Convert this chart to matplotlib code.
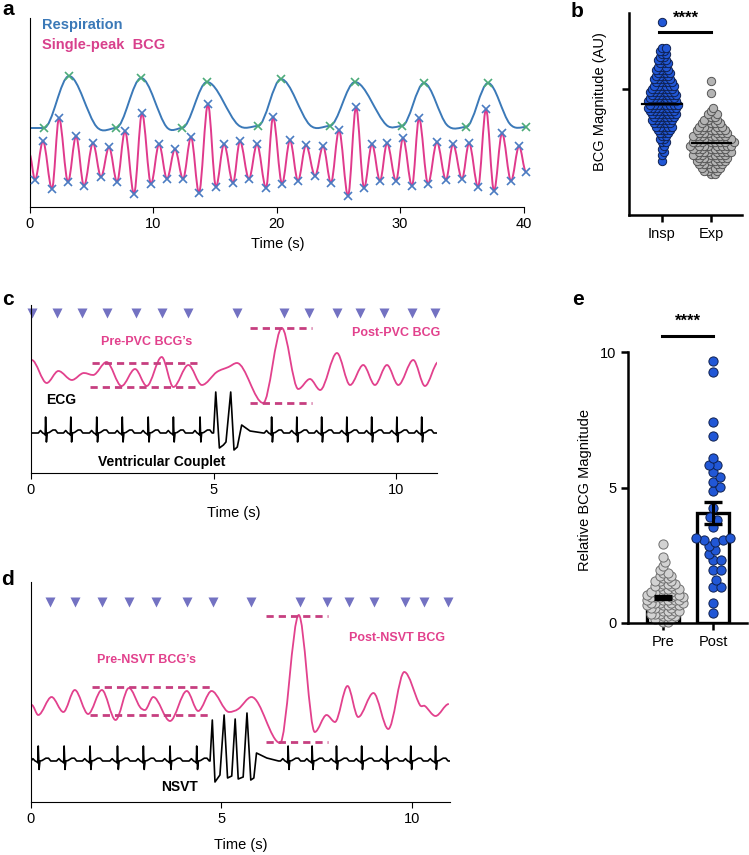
import numpy as np
import matplotlib
matplotlib.use('Agg')
import matplotlib.pyplot as plt
from matplotlib.path import Path
from matplotlib.patches import PathPatch

plt.rcParams['font.family'] = ['Liberation Sans', 'DejaVu Sans']

W, H = 749, 855

# ---------------- panel a: respiration + single-peak BCG (40 s) ----------------
resp_t = [0.0, 1.17, 3.2, 5.45, 7.0, 9.04, 11.1, 12.35, 14.37, 16.9, 18.5, 20.36,
          22.7, 24.3, 26.35, 28.9, 30.16, 31.94, 33.8, 35.35, 37.13, 38.9, 40.2]
resp_amp = [79, 79, 131, 80, 79, 129, 80, 79, 125, 82, 81, 128,
            82, 81, 125, 82, 81, 124, 82, 80, 124, 83, 80]
resp_marked = [0, 1, 1, 0, 1, 1, 0, 1, 1, 0, 1, 1,
               0, 1, 1, 0, 1, 1, 0, 1, 1, 0, 1]

bcg_a_t = [0.0, 0.45, 1.09, 1.82, 2.39, 3.12, 3.77, 4.41, 5.14, 5.79, 6.44, 7.09,
           7.73, 8.46, 9.11, 9.84, 10.49, 11.13, 11.78, 12.43, 13.08, 13.72, 14.45,
           15.10, 15.75, 16.48, 17.04, 17.77, 18.42, 19.15, 19.72, 20.45, 21.09,
           21.74, 22.39, 23.12, 23.77, 24.41, 25.06, 25.79, 26.44, 27.09, 27.73,
           28.38, 28.95, 29.68, 30.24, 30.97, 31.54, 32.27, 32.99, 33.72, 34.29,
           35.02, 35.59, 36.32, 36.96, 37.61, 38.26, 38.99, 39.64, 40.2]
bcg_a_amp = [53, 27, 66, 18, 89, 25, 71, 21, 64, 30, 60, 25, 76, 13, 94, 23, 63, 28,
             58, 28, 70, 14, 103, 20, 63, 24, 66, 28, 63, 19, 90, 23, 67, 26, 62, 31,
             61, 24, 77, 11, 100, 19, 63, 26, 64, 26, 69, 21, 89, 23, 65, 27, 63, 28,
             64, 20, 98, 16, 74, 26, 61, 35]

# ---------------- panel b: BCG magnitude, inspiration vs expiration ----------------
insp_levels = [0.425, 0.450, 0.475, 0.500, 0.525, 0.550, 0.575, 0.600, 0.625, 0.650,
               0.675, 0.700, 0.725, 0.750, 0.775, 0.800, 0.825, 0.850, 0.875, 0.900,
               0.925, 0.950, 0.975, 1.000, 1.025, 1.050, 1.075, 1.100, 1.125, 1.150,
               1.175, 1.200, 1.225, 1.250, 1.275, 1.300, 1.325, 1.53]
insp_counts = [1, 0, 1, 1, 1, 1, 2, 2, 2, 3, 4, 5, 5, 6, 6, 7, 7, 8, 8, 8,
               7, 7, 7, 6, 6, 5, 5, 4, 4, 4, 3, 3, 3, 2, 2, 2, 2, 1]
exp_levels = [0.325, 0.350, 0.375, 0.400, 0.425, 0.450, 0.475, 0.500, 0.525, 0.550,
              0.575, 0.600, 0.625, 0.650, 0.675, 0.700, 0.725, 0.750, 0.775, 0.800,
              0.825, 0.850, 0.97, 1.06]
exp_counts = [2, 3, 4, 5, 6, 6, 7, 7, 7, 8, 8, 7, 7, 6, 6, 5, 4, 3, 2, 2, 1, 1, 1, 1]
insp_median = 0.88
exp_median = 0.57

# ---------------- panel c: ventricular couplet ----------------
tri_c = [0.03, 0.71, 1.40, 2.08, 2.88, 3.59, 4.30, 5.64, 6.93, 7.62, 8.38, 9.01,
         9.67, 10.44, 11.07]
bcg_c_t = [0.02, 0.43, 0.75, 1.12, 1.45, 1.70, 2.07, 2.48, 2.85, 3.17, 3.58, 3.90,
           4.31, 4.68, 5.09, 5.41, 5.64, 6.36, 6.87, 7.32, 7.64, 7.92, 8.38, 8.74,
           9.10, 9.42, 9.75, 10.06, 10.47, 10.79, 11.16]
bcg_c_amp = [113, 90, 102, 93, 100, 98, 111, 87, 104, 87, 116, 86, 108, 88, 101,
             106, 110, 70, 145, 84, 94, 83, 120, 88, 108, 88, 108, 88, 113, 87, 111]
ecg_c_beats = [0.40, 1.09, 1.80, 2.50, 3.21, 3.90, 4.63, 6.59, 7.28, 7.96, 8.65,
               9.33, 10.02, 10.70]
pvc_t = [5.00, 5.06, 5.16, 5.27, 5.34, 5.47, 5.56, 5.65, 5.77, 6.00, 6.36]
pvc_amp = [40, 81, 25, 28, 31, 81, 23, 26, 48, 42, 40]

# ---------------- panel d: NSVT ----------------
tri_d = [0.50, 1.15, 1.86, 2.57, 3.27, 4.09, 4.77, 5.77, 7.06, 7.78, 8.35, 9.00,
         9.82, 10.32, 10.94]
bcg_d_t = [0.02, 0.19, 0.54, 0.85, 1.15, 1.50, 1.86, 2.22, 2.57, 2.86, 2.99, 3.21,
           3.65, 4.09, 4.39, 4.74, 5.20, 5.44, 5.79, 6.54, 7.03, 7.45, 7.76, 7.98,
           8.31, 8.59, 8.99, 9.38, 9.80, 10.21, 10.34, 10.62, 10.97]
bcg_d_amp = [97, 87, 105, 90, 112, 88, 112, 82, 114, 95, 92, 105, 81, 111, 91, 111,
             90, 93, 105, 59, 187, 70, 87, 80, 116, 85, 109, 73, 130, 97, 96, 86, 98]
ecg_d_beats = [0.19, 0.87, 1.55, 2.27, 2.95, 3.65, 4.35, 6.75, 7.38, 8.02, 8.68,
               9.34, 9.97, 10.62]
nsvt_t = [4.70, 4.76, 4.83, 4.96, 5.07, 5.16, 5.27, 5.36, 5.44, 5.57, 5.67, 5.77,
          5.85, 5.92, 6.19, 6.50]
nsvt_amp = [41, 82, 20, 27, 87, 24, 26, 83, 23, 25, 89, 22, 24, 49, 44, 41]

# one normal ECG beat, relative to the R peak (s, amplitude above baseline)
ecg_tmpl_dt = [-0.20, -0.14, -0.08, -0.03, -0.012, 0.0, 0.022, 0.045, 0.10, 0.20, 0.27, 0.33]
ecg_tmpl_da = [0, 2.5, 0, -1, -2, 16, -9, 0, 0.5, 3, 3, 0]

# ---------------- panel e: relative BCG magnitude pre / post ----------------
pre_levels = [0.05, 0.15, 0.25, 0.35, 0.45, 0.55, 0.65, 0.75, 0.85, 0.95, 1.05, 1.15,
              1.25, 1.35, 1.45, 1.55, 1.65, 1.75, 1.85, 1.95, 2.1, 2.25, 2.45, 2.9]
pre_counts = [2, 3, 3, 4, 4, 4, 5, 5, 5, 5, 5, 4, 4, 3, 3, 3, 2, 2, 2, 1, 1, 1, 1, 1]
post_vals = [9.67, 9.25, 7.43, 6.90, 6.10, 5.83, 5.83, 5.58, 5.38, 5.22, 5.03, 4.87,
             4.24, 3.92, 3.80, 3.55, 3.12, 3.12, 3.06, 3.06, 3.00, 2.85, 2.69, 2.55,
             2.32, 2.32, 1.96, 1.96, 1.60, 1.34, 1.34, 0.73, 0.38]
e_means = [0.95, 4.05]
e_sem = [0.05, 0.40]

PINK = '#e2418d'
DASH = '#c63f80'
TRI = '#7372c2'


def smooth_curve(ax, t, y, **kw):
    """Cubic Bezier through the read points, flat at local extrema."""
    t = np.asarray(t, float)
    y = np.asarray(y, float)
    n = len(t)
    m = np.zeros(n)
    for i in range(1, n - 1):
        if (y[i] - y[i - 1]) * (y[i + 1] - y[i]) > 0:
            m[i] = (y[i + 1] - y[i - 1]) / (t[i + 1] - t[i - 1])
    verts = [(t[0], y[0])]
    codes = [Path.MOVETO]
    for i in range(n - 1):
        d = (t[i + 1] - t[i]) / 3
        verts += [(t[i] + d, y[i] + m[i] * d), (t[i + 1] - d, y[i + 1] - m[i + 1] * d),
                  (t[i + 1], y[i + 1])]
        codes += [Path.CURVE4] * 3
    ax.add_patch(PathPatch(Path(verts, codes), fill=False, **kw))


def ecg_trace(beats, base, r_amp, extra_t, extra_amp, t_end):
    t = [0.0, t_end]
    a = [base, base]
    for b in beats:
        for dt, da in zip(ecg_tmpl_dt, ecg_tmpl_da):
            t.append(b + dt)
            a.append(base + da * r_amp / 16)
    t += list(extra_t)
    a += list(extra_amp)
    order = np.argsort(t, kind='stable')
    return np.array(t)[order], np.array(a)[order]


def swarm(vals, px_x, px_y, sep):
    vals = np.sort(np.asarray(vals, float))
    ys = vals * px_y
    xs = np.zeros(len(vals))
    steps = np.arange(1, 120)
    cand = np.concatenate([[0], np.column_stack([steps, -steps]).ravel()]) * 0.5
    for i in range(len(vals)):
        near = np.abs(ys[:i] - ys[i]) < sep
        px, py = xs[:i][near], ys[:i][near]
        for c in cand:
            if np.all((px - c) ** 2 + (py - ys[i]) ** 2 >= sep ** 2):
                xs[i] = c
                break
    return vals, xs / px_x


def add_axes(x0, y0, x1, y1):
    return fig.add_axes([x0 / W, 1 - y1 / H, (x1 - x0) / W, (y1 - y0) / H])


def ftext(x, y, s, **kw):
    fig.text(x / W, 1 - y / H, s, **kw)


fig = plt.figure(figsize=(W / 100, H / 100), dpi=100)

# panel letters
for lx, ly, lab in [(2, 15, 'a'), (571, 17, 'b'), (2, 305, 'c'), (1, 585, 'd'), (572, 305, 'e')]:
    ftext(lx, ly, lab, fontsize=15, fontweight='bold', va='baseline')

# ---- a ----
ax = add_axes(29.5, 18, 526, 207)
smooth_curve(ax, resp_t, resp_amp, edgecolor='#3b79b8', lw=1.4, zorder=2)
smooth_curve(ax, bcg_a_t, bcg_a_amp, edgecolor='#e03a8c', lw=1.4, zorder=2)
rt = [t for t, k in zip(resp_t, resp_marked) if k]
ra = [a for a, k in zip(resp_amp, resp_marked) if k]
ax.plot(rt, ra, 'x', color='#4dab7a', ms=6, mew=1.2, zorder=3, clip_on=False)
ax.plot(bcg_a_t[1:], bcg_a_amp[1:], 'x', color='#4a7cc2', ms=6, mew=1.2, zorder=3,
        clip_on=False)
ax.set_xlim(0, 40.2)
ax.set_ylim(0, 189)
for s in ['top', 'right']:
    ax.spines[s].set_visible(False)
ax.spines['bottom'].set_bounds(0, 40)
ax.set_xticks([0, 10, 20, 30, 40])
ax.set_yticks([])
ax.tick_params(axis='x', labelsize=10.5, length=4, width=0.8)
ax.set_xlabel('Time (s)', fontsize=10.5, labelpad=4)
ftext(42, 29, 'Respiration', color='#3b79b8', fontsize=10.5, fontweight='bold',
      va='baseline')
ftext(42, 49, 'Single-peak  BCG', color='#d8408c', fontsize=10.5, fontweight='bold',
      va='baseline')

# ---- b ----
ax = add_axes(629, 13, 742, 215)
insp_vals = np.repeat(insp_levels, insp_counts)
exp_vals = np.repeat(exp_levels, exp_counts)
v, o = swarm(insp_vals, 49, 126, 3.7)
ax.scatter(0 + o, v, s=36, color='#2157d6', edgecolor='#0f2150', lw=0.7, zorder=2,
           clip_on=False)
v, o = swarm(exp_vals, 49, 126, 3.9)
ax.scatter(1 + o, v, s=36, color='#b4b4b4', edgecolor='#555555', lw=0.7, zorder=2,
           clip_on=False)
ax.plot([-0.4, 0.4], [insp_median] * 2, color='black', lw=1.6, zorder=3)
ax.plot([0.62, 1.4], [exp_median] * 2, color='black', lw=1.6, zorder=3)
ax.plot([-0.06, 1.0], [1.452, 1.452], color='black', lw=2.2, clip_on=False)
ax.text(0.49, 1.5, '****', ha='center', va='bottom', fontsize=12, fontweight='bold')
ax.set_xlim(-0.673, 1.633)
ax.set_ylim(0, 1.6)
for s in ['top', 'right']:
    ax.spines[s].set_visible(False)
for s in ['left', 'bottom']:
    ax.spines[s].set_linewidth(1.8)
ax.set_xticks([0, 1])
ax.set_xticklabels(['Insp', 'Exp'])
ax.set_yticks([1.0])
ax.set_yticklabels([])
ax.tick_params(labelsize=10.5, length=5, width=1.8)
ftext(600, 102, 'BCG Magnitude (AU)', rotation=90, ha='center', va='center',
      fontsize=10.5)

# ---- c ----
ax = add_axes(31, 305, 437, 473)
smooth_curve(ax, bcg_c_t, bcg_c_amp, edgecolor=PINK, lw=1.3, zorder=2)
et, ea = ecg_trace(ecg_c_beats, 40, 16, pvc_t, pvc_amp, 11.12)
ax.plot(et, ea, color='black', lw=1.2, zorder=2)
ax.plot(tri_c, [160] * len(tri_c), 'v', color=TRI, ms=6.5, mec='none', clip_on=False)
for x0, x1, y in [(1.66, 4.68, 110), (1.62, 4.63, 86), (6.0, 7.69, 145), (6.0, 7.69, 70)]:
    ax.plot([x0, x1], [y, y], color=DASH, lw=2.0, dashes=(2.6, 1.8))
ax.text(3.17, 131, "Pre-PVC BCG’s", color=PINK, fontsize=9, fontweight='bold',
        ha='center', va='center')
ax.text(10.0, 140, 'Post-PVC BCG', color=PINK, fontsize=9, fontweight='bold',
        ha='center', va='center')
ax.text(0.84, 73, 'ECG', fontsize=10, fontweight='bold', ha='center', va='center')
ax.text(3.59, 11, 'Ventricular Couplet', fontsize=10, fontweight='bold', ha='center',
        va='center')
ax.set_xlim(0, 11.12)
ax.set_ylim(0, 168)
for s in ['top', 'right']:
    ax.spines[s].set_visible(False)
ax.set_xticks([0, 5, 10])
ax.set_yticks([])
ax.tick_params(axis='x', labelsize=10.5, length=4, width=0.8)
ax.set_xlabel('Time (s)', fontsize=10.5, labelpad=6)

# ---- d ----
ax = add_axes(31, 582, 450, 802)
smooth_curve(ax, bcg_d_t, bcg_d_amp, edgecolor=PINK, lw=1.3, zorder=2)
et, ea = ecg_trace(ecg_d_beats, 41, 15, nsvt_t, nsvt_amp, 11.0)
ax.plot(et, ea, color='black', lw=1.2, zorder=2)
ax.plot(tri_d, [200] * len(tri_d), 'v', color=TRI, ms=6.5, mec='none', clip_on=False)
for x0, x1, y in [(1.59, 4.74, 115), (1.55, 4.65, 87), (6.16, 7.80, 186), (6.16, 7.80, 60)]:
    ax.plot([x0, x1], [y, y], color=DASH, lw=2.0, dashes=(2.6, 1.8))
ax.text(3.04, 142, "Pre-NSVT BCG’s", color=PINK, fontsize=9, fontweight='bold',
        ha='center', va='center')
ax.text(9.6, 164, 'Post-NSVT BCG', color=PINK, fontsize=9, fontweight='bold',
        ha='center', va='center')
ax.text(3.89, 15, 'NSVT', fontsize=10, fontweight='bold', ha='center', va='center')
ax.set_xlim(0, 11.0)
ax.set_ylim(0, 220)
for s in ['top', 'right']:
    ax.spines[s].set_visible(False)
ax.set_xticks([0, 5, 10])
ax.set_yticks([])
ax.tick_params(axis='x', labelsize=10.5, length=4, width=0.8)
ax.set_xlabel('Time (s)', fontsize=10.5, labelpad=8)

# ---- e ----
ax = add_axes(628, 352, 747, 623)
ax.bar([0, 1], e_means, width=0.64, color='white', edgecolor='black', lw=2.4, zorder=1)
v, o = swarm(np.repeat(pre_levels, pre_counts), 50, 27.1, 4.3)
ax.scatter(0 + o, v, s=44, color='#d2d2d2', edgecolor='#6f6f6f', lw=0.7, zorder=2,
           clip_on=False)
v, o = swarm(post_vals, 50, 27.1, 7.5)
ax.scatter(1 + o, v, s=44, color='#2157d6', edgecolor='#0f2150', lw=0.7, zorder=2,
           clip_on=False)
ax.errorbar([0, 1], e_means, yerr=e_sem, fmt='none', ecolor='black', elinewidth=2.2,
            capsize=6.5, capthick=2.4, zorder=3)
ax.plot([-0.02, 1.0], [10.6, 10.6], color='black', lw=2.2, clip_on=False)
ax.text(0.5, 10.85, '****', ha='center', va='bottom', fontsize=12, fontweight='bold')
ax.set_xlim(-0.7, 1.68)
ax.set_ylim(0, 10)
for s in ['top', 'right']:
    ax.spines[s].set_visible(False)
for s in ['left', 'bottom']:
    ax.spines[s].set_linewidth(1.8)
ax.set_xticks([0, 1])
ax.set_xticklabels(['Pre', 'Post'])
ax.set_yticks([0, 5, 10])
ax.tick_params(labelsize=10.5, length=5, width=1.8)
ftext(585, 490, 'Relative BCG Magnitude', rotation=90, ha='center', va='center',
      fontsize=10.5)

fig.savefig('out.png', dpi=100)
